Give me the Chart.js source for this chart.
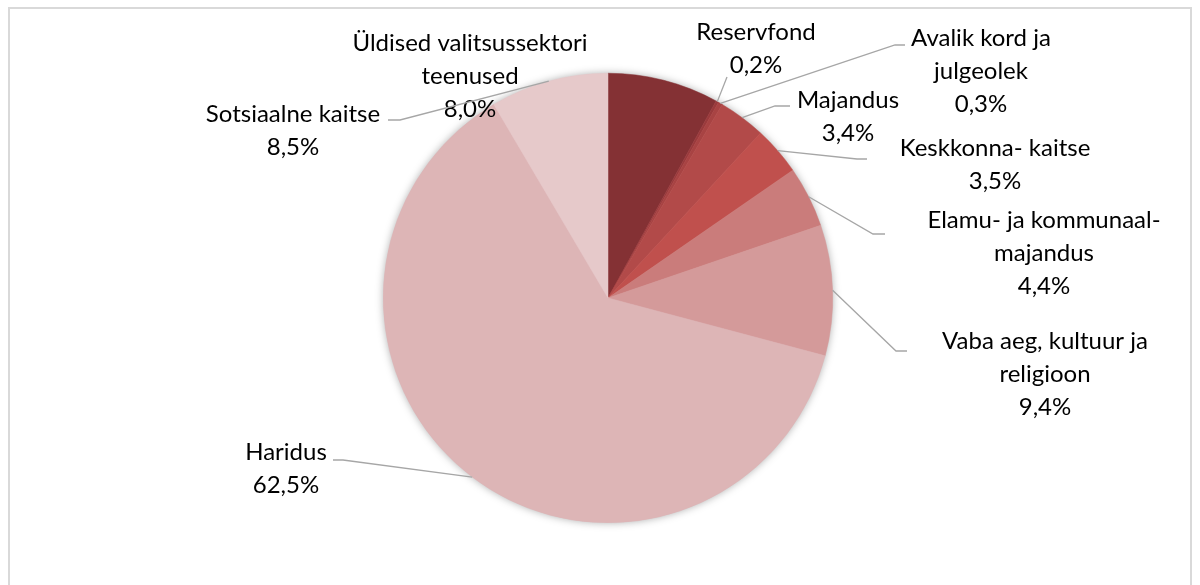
<!DOCTYPE html>
<html>
<head>
<meta charset="utf-8">
<script src="https://cdn.jsdelivr.net/npm/chart.js@4.4.1/dist/chart.umd.min.js"></script>
<style>
    html, body { margin: 0; padding: 0; background: #fff; }
    #wrap { width: 1200px; height: 585px; }
</style>
</head>
<body>
<div id="wrap"><canvas id="pieChart" width="1200" height="585"></canvas></div>
<script>
// Data (share of spending, %)
const categories = [
    'Üldised valitsussektori teenused',
    'Reservfond',
    'Avalik kord ja julgeolek',
    'Majandus',
    'Keskkonna- kaitse',
    'Elamu- ja kommunaalmajandus',
    'Vaba aeg, kultuur ja religioon',
    'Haridus',
    'Sotsiaalne kaitse'
];
const shares = [8.0, 0.2, 0.3, 3.4, 3.5, 4.4, 9.4, 62.5, 8.5];

// How each category name is wrapped in its data label
const labelLines = [
    ['Üldised valitsussektori', 'teenused'],
    ['Reservfond'],
    ['Avalik kord ja', 'julgeolek'],
    ['Majandus'],
    ['Keskkonna- kaitse'],
    ['Elamu- ja kommunaal-', 'majandus'],
    ['Vaba aeg, kultuur ja', 'religioon'],
    ['Haridus'],
    ['Sotsiaalne kaitse']
];

const sliceColors = ['#843134', '#9a3a3c', '#a84343', '#b24a49', '#c0504d', '#ca7c7b', '#d49a9a', '#ddb5b6', '#e6c9ca'];

// Label layout, relative to the pie centre (px): text anchor + leader bend points
const labelLayout = [
    { text: [-138, -255], bends: null },
    { text: [148, -266], bends: [[119, -221]] },
    { text: [373, -260], bends: [[287, -253], [297, -253]] },
    { text: [240, -198], bends: [[167, -192], [182, -192]] },
    { text: [387, -150], bends: [[249, -139], [259, -139]] },
    { text: [436, -78], bends: [[265, -64], [277, -64]] },
    { text: [437, 43], bends: [[288, 53], [299, 53]] },
    { text: [-322, 154], bends: [[-265, 162], [-275, 162]] },
    { text: [-315, -184], bends: [[-208, -178], [-220, -178]] }
];

const lineGap = 33;
const fmt = v => v.toFixed(1).replace('.', ',') + '%';

const frame = {
    id: 'frame',
    beforeDraw(chart) {
        const ctx = chart.ctx;
        ctx.save();
        ctx.fillStyle = '#fff';
        ctx.fillRect(0, 0, chart.width, chart.height);
        ctx.strokeStyle = '#d9d9d9';
        ctx.lineWidth = 2;
        ctx.strokeRect(9, 8, 1182, 620);
        ctx.restore();
    }
};

const pieShadow = {
    id: 'pieShadow',
    beforeDatasetsDraw(chart) {
        const arc = chart.getDatasetMeta(0).data[0];
        if (!arc) return;
        const { x, y, outerRadius } = arc.getProps(['x', 'y', 'outerRadius'], true);
        const ctx = chart.ctx;
        ctx.save();
        ctx.shadowColor = 'rgba(0,0,0,0.35)';
        ctx.shadowBlur = 9;
        ctx.fillStyle = '#dcb4b5';
        ctx.beginPath();
        ctx.arc(x, y, outerRadius - 0.5, 0, Math.PI * 2);
        ctx.fill();
        ctx.restore();
    }
};

const pieLabels = {
    id: 'pieLabels',
    afterDatasetsDraw(chart) {
        const ctx = chart.ctx;
        const meta = chart.getDatasetMeta(0);
        ctx.save();
        meta.data.forEach((arc, i) => {
            const p = arc.getProps(['x', 'y', 'startAngle', 'endAngle', 'outerRadius'], true);
            const mid = (p.startAngle + p.endAngle) / 2;
            const lay = labelLayout[i];
            if (lay.bends) {
                ctx.strokeStyle = '#a6a6a6';
                ctx.lineWidth = 1.3;
                ctx.beginPath();
                ctx.moveTo(p.x + Math.cos(mid) * p.outerRadius, p.y + Math.sin(mid) * p.outerRadius);
                lay.bends.forEach(b => ctx.lineTo(p.x + b[0], p.y + b[1]));
                ctx.stroke();
            }
            const lines = labelLines[i].concat([fmt(shares[i])]);
            ctx.fillStyle = '#000';
            ctx.font = '24px Lato';
            ctx.textAlign = 'center';
            ctx.textBaseline = 'middle';
            lines.forEach((t, k) => {
                ctx.fillText(t, p.x + lay.text[0], p.y + lay.text[1] + k * lineGap);
            });
        });
        ctx.restore();
    }
};

Chart.defaults.font.family = 'Lato';

new Chart(document.getElementById('pieChart'), {
    type: 'pie',
    data: {
        labels: categories,
        datasets: [{
            data: shares,
            backgroundColor: sliceColors,
            borderColor: sliceColors,
            borderWidth: 0.5,
            hoverOffset: 0
        }]
    },
    options: {
        responsive: false,
        animation: false,
        layout: { padding: { top: 73, bottom: 62, left: 200, right: 184 } },
        plugins: {
            legend: { display: false },
            tooltip: { enabled: false }
        }
    },
    plugins: [frame, pieShadow, pieLabels]
});
</script>
</body>
</html>
